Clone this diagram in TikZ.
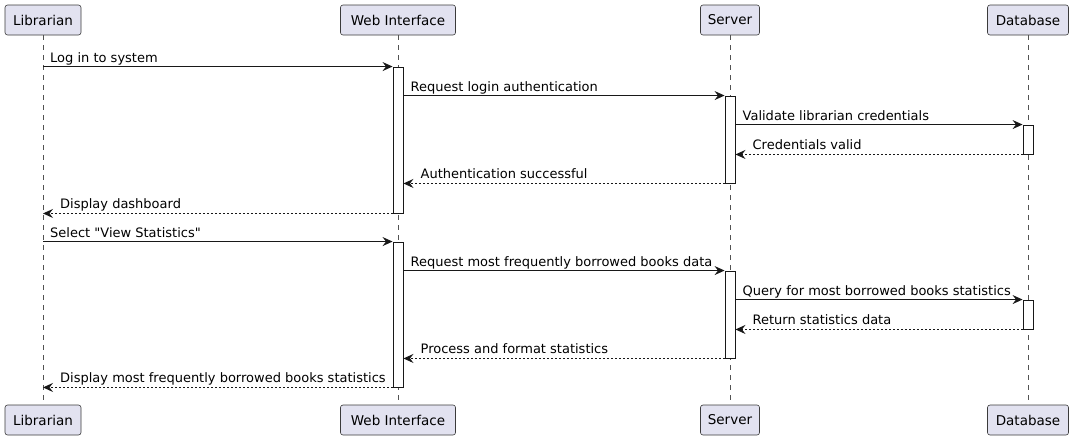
\documentclass[tikz,border=0pt]{standalone}
\usepackage{fontspec}
\setmainfont{DejaVu Sans}[Ligatures=TeXOff]
\usetikzlibrary{arrows.meta}
\definecolor{partfill}{HTML}{E2E2F0}
\definecolor{ink}{HTML}{181818}
\tikzset{
  part/.style={draw=ink!85, fill=partfill, rounded corners=2.5pt, line width=0.6pt,
    minimum height=30pt, inner sep=0pt, font=\fontsize{13.5}{16}\selectfont},
  life/.style={draw=ink!75, line width=0.6pt, dash pattern=on 5pt off 5pt},
  act/.style={draw=ink, fill=white, line width=0.9pt, minimum width=10pt, inner sep=0pt},
  msg/.style={draw=ink, line width=0.9pt, -{Stealth[length=10pt,width=9pt,inset=3.5pt]}},
  ret/.style={msg, dash pattern=on 2pt off 2pt},
  lbl/.style={anchor=base west, inner sep=0pt, font=\fontsize{13}{15}\selectfont}
}
\begin{document}
\begin{tikzpicture}[x=1pt,y=-1pt]
\useasboundingbox (0,0) rectangle (1073,440);
% participants
\node[part, minimum width=76pt] (libT) at (43,20) {Librarian};
\node[part, minimum width=115pt] (webT) at (398,20) {Web Interface};
\node[part, minimum width=59pt] (srvT) at (730,20) {Server};
\node[part, minimum width=81pt] (dbT) at (1028,20) {Database};
\node[part, minimum width=76pt] (libB) at (43,420) {Librarian};
\node[part, minimum width=115pt] (webB) at (398,420) {Web Interface};
\node[part, minimum width=59pt] (srvB) at (730,420) {Server};
\node[part, minimum width=81pt] (dbB) at (1028,420) {Database};
% lifelines
\draw[life] (libT.south) -- (libB.north);
\draw[life] (webT.south) -- (webB.north);
\draw[life] (srvT.south) -- (srvB.north);
\draw[life] (dbT.south) -- (dbB.north);
% activations
\node[act, minimum height=146pt] (wa1) at (398,140) {};
\node[act, minimum height=87pt] (sa1) at (730,139.5) {};
\node[act, minimum height=29pt] (da1) at (1028,139.5) {};
\node[act, minimum height=145pt] (wa2) at (398,314.5) {};
\node[act, minimum height=87pt] (sa2) at (730,314.5) {};
\node[act, minimum height=29pt] (da2) at (1028,314.5) {};
% messages (first block)
\draw[msg] (libT |- wa1.north) -- (wa1.north west);
\path (libT |- wa1.north) ++(7,-4.5) node[lbl] {Log in to system};
\draw[msg] (wa1.east |- sa1.north) -- (sa1.north west);
\path (wa1.east |- sa1.north) ++(7,-4.5) node[lbl] {Request login authentication};
\draw[msg] (sa1.east |- da1.north) -- (da1.north west);
\path (sa1.east |- da1.north) ++(7,-4.5) node[lbl] {Validate librarian credentials};
\draw[ret] (da1.south west) -- (sa1.east |- da1.south);
\path (sa1.east |- da1.south) ++(17,-4.5) node[lbl] {Credentials valid};
\draw[ret] (sa1.south west) -- (wa1.east |- sa1.south);
\path (wa1.east |- sa1.south) ++(17,-4.5) node[lbl] {Authentication successful};
\draw[ret] (wa1.south west) -- (libT |- wa1.south);
\path (libT |- wa1.south) ++(17,-4.5) node[lbl] {Display dashboard};
% messages (second block)
\draw[msg] (libT |- wa2.north) -- (wa2.north west);
\path (libT |- wa2.north) ++(7,-4.5) node[lbl] {Select "View Statistics"};
\draw[msg] (wa2.east |- sa2.north) -- (sa2.north west);
\path (wa2.east |- sa2.north) ++(7,-4.5) node[lbl] {Request most frequently borrowed books data};
\draw[msg] (sa2.east |- da2.north) -- (da2.north west);
\path (sa2.east |- da2.north) ++(7,-4.5) node[lbl] {Query for most borrowed books statistics};
\draw[ret] (da2.south west) -- (sa2.east |- da2.south);
\path (sa2.east |- da2.south) ++(17,-4.5) node[lbl] {Return statistics data};
\draw[ret] (sa2.south west) -- (wa2.east |- sa2.south);
\path (wa2.east |- sa2.south) ++(17,-4.5) node[lbl] {Process and format statistics};
\draw[ret] (wa2.south west) -- (libT |- wa2.south);
\path (libT |- wa2.south) ++(17,-4.5) node[lbl] {Display most frequently borrowed books statistics};
\end{tikzpicture}
\end{document}
